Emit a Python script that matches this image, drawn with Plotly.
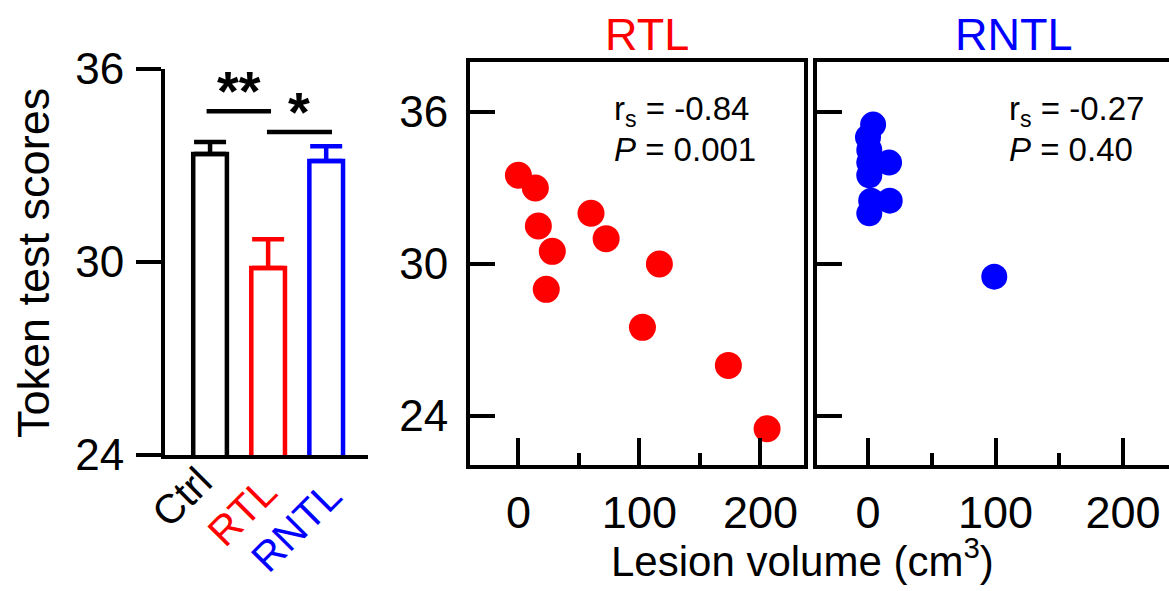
import plotly.graph_objects as go

W, H = 1169, 591

# ---------------- data ----------------
groups = ["Ctrl", "RTL", "RNTL"]
group_colors = ["#000000", "#FF0000", "#0000FF"]
group_means = [33.36, 29.81, 33.14]
group_sem = [0.37, 0.90, 0.46]

# significance comparisons: start / end category position, y level, label
sig_from = [-0.06, 0.98]
sig_to = [1.05, 2.1]
sig_level = [34.69, 34.04]
sig_label = ["**", "*"]

rtl_volume = [0, 14, 16.5, 28, 23, 60, 72.5, 116.5, 102.5, 173.5, 205.5]
rtl_score = [33.5, 33.0, 31.5, 30.5, 29.0, 32.0, 31.0, 30.0, 27.5, 26.0, 23.5]

rntl_volume = [4, 0, 1, 16.5, 1, 1, 2.5, 17, 1, 99]
rntl_score = [35.5, 35.0, 34.5, 34.0, 34.0, 33.5, 32.5, 32.5, 32.0, 29.5]

y_ticks = [24, 30, 36]
x_ticks = [0, 100, 200]

rtl_stats = ("-0.84", "0.001")
rntl_stats = ("-0.27", "0.40")

FONT = "Liberation Sans, Arial, sans-serif"


def px(x):
    return x / W


def py(y):
    return 1 - y / H


fig = go.Figure()

# ---------------- bar panel ----------------
for g, c, m, e in zip(groups, group_colors, group_means, group_sem):
    fig.add_trace(go.Bar(
        x=[g], y=[m], base=0,
        marker=dict(color="white", line=dict(color=c, width=4.5)),
        width=0.58,
        error_y=dict(type="data", array=[e], arrayminus=[0], symmetric=False,
                     color=c, thickness=4.5, width=16),
        xaxis="x", yaxis="y", showlegend=False,
    ))

# ---------------- scatter panels ----------------
fig.add_trace(go.Scatter(
    x=rtl_volume, y=rtl_score, mode="markers",
    marker=dict(color="#FF0000", size=27, line=dict(width=0)),
    xaxis="x2", yaxis="y2", showlegend=False,
))
fig.add_trace(go.Scatter(
    x=rntl_volume, y=rntl_score, mode="markers",
    marker=dict(color="#0000FF", size=26, line=dict(width=0)),
    xaxis="x3", yaxis="y3", showlegend=False,
))

axis_common = dict(showgrid=False, zeroline=False, showline=True,
                   linecolor="black", linewidth=4, tickcolor="black",
                   tickwidth=4, automargin=False)

scatter_x = dict(**axis_common, range=[-40, 236], tickmode="array",
                 tickvals=x_ticks, ticks="inside", ticklen=27, mirror=True,
                 tickfont=dict(family=FONT, size=45, color="black"),
                 ticklabelstandoff=5,
                 minor=dict(dtick=50, tick0=0, ticks="inside", ticklen=12,
                            tickwidth=4, tickcolor="black"))

scatter_y = dict(**axis_common, range=[22.07, 37.97], tickmode="array",
                 tickvals=y_ticks, ticks="inside", ticklen=25,
                 tickfont=dict(family=FONT, size=44, color="black"),
                 ticklabelstandoff=9)

fig.update_layout(
    width=W, height=H,
    margin=dict(l=0, r=0, t=0, b=0, autoexpand=False),
    paper_bgcolor="white", plot_bgcolor="white",
    barmode="overlay",
    font=dict(family=FONT, color="black"),
    xaxis=dict(**axis_common, domain=[px(165), px(368)],
               type="category", categoryorder="array", categoryarray=groups,
               range=[-0.776, 2.72], ticks="", showticklabels=False),
    yaxis=dict(**axis_common, domain=[py(455), py(69)], range=[24, 36],
               tickmode="array", tickvals=y_ticks, ticks="outside", ticklen=25,
               tickfont=dict(family=FONT, size=44, color="black"),
               ticklabelstandoff=3),
    xaxis2=dict(**scatter_x, domain=[px(470), px(804)], anchor="y2"),
    yaxis2=dict(**scatter_y, domain=[py(465), py(62)], anchor="x2", mirror=True),
    xaxis3=dict(**scatter_x, domain=[px(817), 1.0], anchor="y3"),
    yaxis3=dict(**scatter_y, domain=[py(465), py(62)], anchor="x3", mirror=False,
                showticklabels=False),
)

# significance lines & stars
for x0, x1, lvl, lab in zip(sig_from, sig_to, sig_level, sig_label):
    fig.add_shape(type="line", xref="x", yref="y",
                  x0=x0, x1=x1, y0=lvl, y1=lvl,
                  line=dict(color="black", width=4.5))
    fig.add_annotation(xref="x", yref="y", x=(x0 + x1) / 2, y=lvl,
                       text=f"<b>{lab}</b>", showarrow=False, yanchor="bottom",
                       yshift=-13,
                       font=dict(size=56, color="black", family=FONT))

annots = []
# y-axis title
annots.append(dict(x=px(33), y=py(263), text="Token test scores", textangle=-90,
                   font=dict(size=45)))
# rotated category labels
label_pos = [(182, 497), (242, 512), (296, 527)]
for (lx, ly), g, c in zip(label_pos, groups, group_colors):
    annots.append(dict(x=px(lx), y=py(ly), text=g, textangle=-45,
                       font=dict(size=41, color=c)))
# panel titles
annots.append(dict(x=px(647), y=py(34), text="RTL", font=dict(size=45, color="#FF0000")))
annots.append(dict(x=px(1014), y=py(34), text="RNTL", font=dict(size=45, color="#0000FF")))
# stats
for x0, (r, p) in zip([612, 1007], [rtl_stats, rntl_stats]):
    annots.append(dict(x=px(x0), y=py(111), xanchor="left",
                       text=f"r<sub>s</sub> = {r}", font=dict(size=33)))
    annots.append(dict(x=px(x0), y=py(149), xanchor="left",
                       text=f"<i>P</i> = {p}", font=dict(size=33)))
# x title
annots.append(dict(x=px(802), y=py(558), text="Lesion volume (cm<sup>3</sup>)",
                   font=dict(size=42)))

for a in annots:
    a.setdefault("xanchor", "center")
    a["yanchor"] = "middle"
    a["xref"] = "paper"
    a["yref"] = "paper"
    a["showarrow"] = False
    f = a.setdefault("font", {})
    f.setdefault("color", "black")
    f.setdefault("family", FONT)
    fig.add_annotation(**a)

fig.write_html("out.html")
